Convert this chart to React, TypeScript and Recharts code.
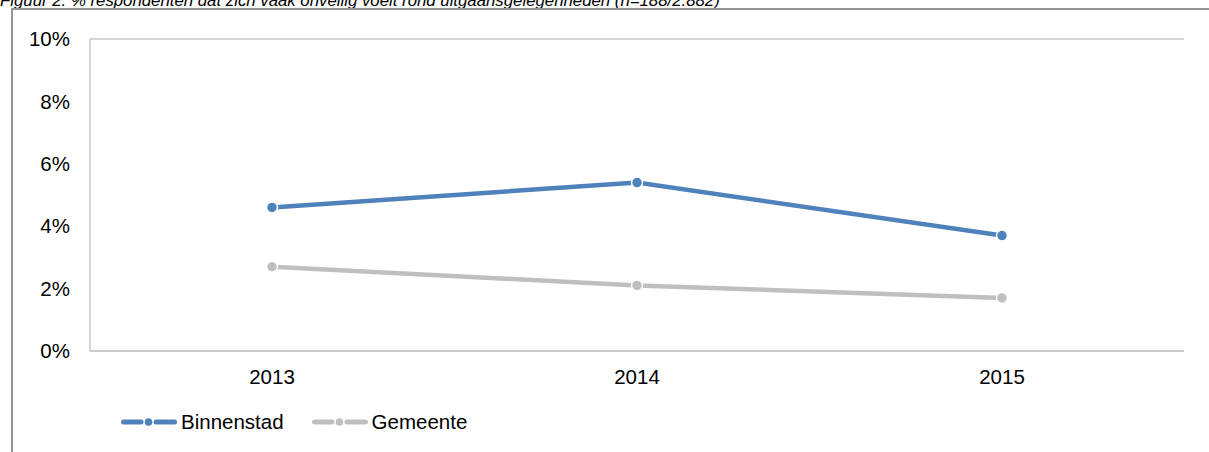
import React from 'react';
import { LineChart, Line, XAxis, YAxis, CartesianGrid } from 'recharts';

const years = ['2013', '2014', '2015'];
const binnenstad = [4.6, 5.4, 3.7];
const gemeente = [2.7, 2.1, 1.7];
const yTicks = [0, 2, 4, 6, 8, 10];

const series = [
  { key: 'Binnenstad', values: binnenstad, color: '#4F81BD' },
  { key: 'Gemeente', values: gemeente, color: '#BFBFBF' },
];

const data = years.map((year, i) => {
  const row: Record<string, string | number> = { year };
  series.forEach(s => {
    row[s.key] = s.values[i];
  });
  return row;
});

const FONT = '"Liberation Sans", Arial, sans-serif';
const GRID = '#C8C8C8';

function LegendIcon({ color }: { color: string }) {
  return (
    <svg width={56} height={10} style={{ display: 'block' }}>
      <line x1={2.5} y1={5} x2={20} y2={5} stroke={color} strokeWidth={5} strokeLinecap="round" />
      <line x1={35} y1={5} x2={53.5} y2={5} stroke={color} strokeWidth={5} strokeLinecap="round" />
      <circle cx={27.5} cy={5} r={3.8} fill={color} />
    </svg>
  );
}

export default function App() {
  return (
    <div
      style={{
        position: 'fixed',
        left: 0,
        top: 0,
        width: 1209,
        height: 452,
        overflow: 'hidden',
        background: '#fff',
        fontFamily: FONT,
      }}
    >
      <div
        style={{
          position: 'absolute',
          left: 0,
          top: -9,
          fontSize: 16.8,
          fontStyle: 'italic',
          whiteSpace: 'nowrap',
          color: '#000',
        }}
      >
        Figuur 2: % respondenten dat zich vaak onveilig voelt rond uitgaansgelegenheden (n=188/2.882)
      </div>
      <div
        style={{
          position: 'absolute',
          left: 11,
          top: 8,
          width: 1220,
          height: 460,
          borderLeft: '2px solid #959595',
          borderTop: '2px solid #959595',
        }}
      />
      <div style={{ position: 'absolute', left: 0, top: 0 }}>
        <LineChart
          width={1209}
          height={452}
          data={data}
          margin={{ top: 39, right: 25, bottom: 71, left: 0 }}
        >
          <CartesianGrid vertical={false} stroke={GRID} strokeWidth={1.5} />
          <XAxis
            dataKey="year"
            height={30}
            padding={{ left: 182, right: 182 }}
            axisLine={{ stroke: GRID, strokeWidth: 1.5 }}
            tickLine={false}
            tickSize={0}
            tickMargin={18}
            tick={{ fill: '#000', fontSize: 20.5, fontFamily: FONT }}
          />
          <YAxis
            yAxisId="left"
            domain={[0, 10]}
            ticks={yTicks}
            width={90}
            axisLine={{ stroke: GRID, strokeWidth: 1.5 }}
            tickLine={false}
            tickSize={0}
            tickMargin={20}
            tickFormatter={(v: number) => `${v}%`}
            tick={{ fill: '#000', fontSize: 20.5, fontFamily: FONT }}
          />
          <YAxis
            yAxisId="right"
            orientation="right"
            domain={[0, 10]}
            width={0}
            tick={false}
            tickLine={false}
            axisLine={{ stroke: GRID, strokeWidth: 1.5 }}
          />
          {series.map(s => (
            <Line
              key={s.key}
              yAxisId="left"
              dataKey={s.key}
              stroke={s.color}
              strokeWidth={4.5}
              dot={{ r: 5.5, fill: s.color, stroke: '#fff', strokeWidth: 1.5 }}
              activeDot={false}
              isAnimationActive={false}
            />
          ))}
        </LineChart>
      </div>
      <div
        style={{
          position: 'absolute',
          left: 121,
          top: 410,
          display: 'flex',
          alignItems: 'center',
          fontSize: 20.5,
          color: '#000',
        }}
      >
        {series.map((s, i) => (
          <div
            key={s.key}
            style={{ display: 'flex', alignItems: 'center', marginLeft: i === 0 ? 0 : 28 }}
          >
            <LegendIcon color={s.color} />
            <span style={{ marginLeft: 4 }}>{s.key}</span>
          </div>
        ))}
      </div>
    </div>
  );
}
